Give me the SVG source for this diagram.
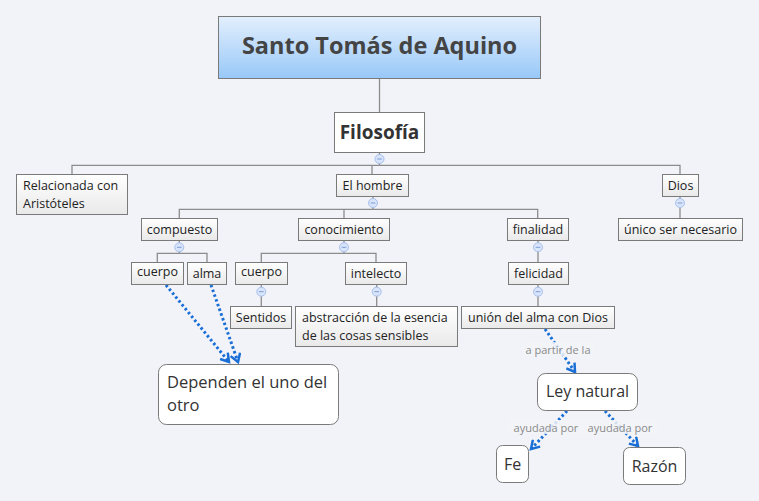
<svg xmlns="http://www.w3.org/2000/svg" width="759" height="501" viewBox="0 0 759 501">
<defs>
<linearGradient id="gTitle" x1="0" y1="0" x2="0" y2="1">
<stop offset="0" stop-color="#e3effd"/><stop offset="1" stop-color="#98c8f8"/>
</linearGradient>
<linearGradient id="gNode" x1="0" y1="0" x2="0" y2="1">
<stop offset="0" stop-color="#ffffff"/><stop offset="1" stop-color="#e9e9ea"/>
</linearGradient>
<marker id="arr" viewBox="0 0 12 12" refX="9" refY="6" markerWidth="12" markerHeight="12" markerUnits="userSpaceOnUse" orient="auto">
<path d="M1,1 L9,6 L1,11" fill="none" stroke="#1a6fd6" stroke-width="2.5"/>
</marker>
<g id="col"><circle r="4.5" fill="#d8e4fa" stroke="#a8c0ec" stroke-width="1"/><line x1="-2.3" y1="0" x2="2.3" y2="0" stroke="#7d9bd6" stroke-width="1"/></g>
</defs>
<style>
.t{font-family:"Open Sans","Noto Sans","DejaVu Sans",sans-serif;fill:#222;}
.n{fill:url(#gNode);stroke:#7a7a7a;stroke-width:1;}
.f{fill:#fff;stroke:#7a7a7a;stroke-width:1;}
.ln{fill:none;stroke:#8c8c8c;stroke-width:1.3;}
.dl{fill:none;stroke:#1a6fd6;stroke-width:3;stroke-dasharray:2.5 2.5;marker-end:url(#arr);}
.lb{font-family:"Open Sans","Noto Sans",sans-serif;font-size:11px;fill:#8a8a8a;text-anchor:middle;}
</style>
<rect width="759" height="501" fill="#f2f3f8"/>
<g id="connectors">
<path class="ln" d="M379.5,78 V112"/>
<path class="ln" d="M379.5,152 V165.3 M72,174 V165.3 H680 V174 M372,165.3 V174"/>
<path class="ln" d="M373,196 V209.3 M179.3,218 V209.3 H537.7 V218 M344,209.3 V218"/>
<path class="ln" d="M680,196 V218"/>
<path class="ln" d="M179.3,240 V253.3 M157.3,262 V253.3 H207 V262"/>
<path class="ln" d="M344,240 V253.3 M261.3,262 V253.3 H376 V262"/>
<path class="ln" d="M538,240 V262 M538,284 V306"/>
<path class="ln" d="M261.3,284 V306 M376.7,284 V306"/>
<use href="#col" x="379.5" y="159"/>
<use href="#col" x="373" y="203"/>
<use href="#col" x="680" y="203"/>
<use href="#col" x="179.3" y="247.3"/>
<use href="#col" x="344" y="247.3"/>
<use href="#col" x="538" y="247.3"/>
<use href="#col" x="261.3" y="291.7"/>
<use href="#col" x="376.7" y="291.7"/>
<use href="#col" x="538" y="291.7"/>
<path class="dl" d="M166,285 L229,362"/>
<path class="dl" d="M211,285 L238,362"/>
<path class="dl" d="M545,329 L575,372"/>
<path class="dl" d="M567,411 L531,449"/>
<path class="dl" d="M605,411 L638,446"/>
<rect x="522" y="342" width="72" height="14" fill="#f2f3f8" opacity="0.85"/>
<rect x="509" y="420" width="74" height="14" fill="#f2f3f8" opacity="0.85"/>
<rect x="583" y="420" width="74" height="14" fill="#f2f3f8" opacity="0.85"/>
<text class="lb" x="558" y="354">a partir de la</text>
<text class="lb" x="546" y="432">ayudada por</text>
<text class="lb" x="620" y="432">ayudada por</text>
</g>
<g id="title">
<rect x="218.5" y="16.5" width="322" height="62" fill="url(#gTitle)" stroke="#7a7a7a"/>
<text class="t" x="379.5" y="54" font-size="23.5" font-weight="bold" text-anchor="middle" style="fill:#444">Santo Tomás de Aquino</text>
</g>
<g id="filosofia">
<rect x="334.5" y="112.5" width="90" height="40" fill="#fff" stroke="#7a7a7a"/>
<text class="t" x="379.5" y="139" font-size="19" font-weight="bold" text-anchor="middle" style="fill:#333">Filosofía</text>
</g>
<g id="relacionada">
<rect class="n" x="16.5" y="174.5" width="111" height="40"/>
<text class="t" x="23" y="190" font-size="12.5">Relacionada con</text>
<text class="t" x="23" y="208" font-size="12.5">Aristóteles</text>
</g>
<g id="hombre">
<rect class="n" x="336.5" y="174.5" width="72" height="22"/>
<text class="t" x="372.5" y="190" font-size="12.5" text-anchor="middle">El hombre</text>
</g>
<g id="dios">
<rect class="n" x="662.5" y="174.5" width="36" height="22"/>
<text class="t" x="680.5" y="190" font-size="12.5" text-anchor="middle">Dios</text>
</g>
<g id="unico">
<rect class="n" x="618.5" y="218.5" width="124" height="22"/>
<text class="t" x="680.5" y="234" font-size="12.5" text-anchor="middle">único ser necesario</text>
</g>
<g id="compuesto">
<rect class="n" x="141.5" y="218.5" width="76" height="22"/>
<text class="t" x="179.5" y="234" font-size="12.5" text-anchor="middle">compuesto</text>
</g>
<g id="conocimiento">
<rect class="n" x="298.5" y="218.5" width="91" height="22"/>
<text class="t" x="344" y="234" font-size="12.5" text-anchor="middle">conocimiento</text>
</g>
<g id="finalidad">
<rect class="n" x="507.5" y="218.5" width="61" height="22"/>
<text class="t" x="538" y="234" font-size="12.5" text-anchor="middle">finalidad</text>
</g>
<g id="cuerpo1">
<rect class="n" x="131.5" y="262.5" width="52" height="22"/>
<text class="t" x="157.5" y="276" font-size="12.5" text-anchor="middle">cuerpo</text>
</g>
<g id="alma">
<rect class="n" x="187.5" y="262.5" width="39" height="22"/>
<text class="t" x="207" y="278" font-size="12.5" text-anchor="middle">alma</text>
</g>
<g id="cuerpo2">
<rect class="n" x="235.5" y="262.5" width="52" height="22"/>
<text class="t" x="261.5" y="276" font-size="12.5" text-anchor="middle">cuerpo</text>
</g>
<g id="intelecto">
<rect class="n" x="345.5" y="262.5" width="61" height="22"/>
<text class="t" x="376" y="278" font-size="12.5" text-anchor="middle">intelecto</text>
</g>
<g id="felicidad">
<rect class="n" x="508.5" y="262.5" width="60" height="22"/>
<text class="t" x="538.5" y="278" font-size="12.5" text-anchor="middle">felicidad</text>
</g>
<g id="sentidos">
<rect class="n" x="230.5" y="306.5" width="61" height="22"/>
<text class="t" x="261" y="322" font-size="12.5" text-anchor="middle">Sentidos</text>
</g>
<g id="abstraccion">
<rect class="n" x="295.5" y="306.5" width="162" height="40"/>
<text class="t" x="302" y="322" font-size="12.5">abstracción de la esencia</text>
<text class="t" x="302" y="340" font-size="12.5">de las cosas sensibles</text>
</g>
<g id="union">
<rect class="n" x="461.5" y="306.5" width="153" height="22"/>
<text class="t" x="538" y="322" font-size="12.5" text-anchor="middle">unión del alma con Dios</text>
</g>
<g id="dependen">
<rect class="f" x="158.5" y="364.5" width="180" height="60" rx="8"/>
<text class="t" x="167" y="388" font-size="16.5" style="fill:#333">Dependen el uno del</text>
<text class="t" x="167" y="411" font-size="16.5" style="fill:#333">otro</text>
</g>
<g id="ley">
<rect class="f" x="537.5" y="373.5" width="100" height="37" rx="8"/>
<text class="t" x="587.5" y="397" font-size="16" text-anchor="middle" style="fill:#333">Ley natural</text>
</g>
<g id="fe">
<rect class="f" x="496.5" y="445.5" width="32" height="37" rx="6"/>
<text class="t" x="512.5" y="470" font-size="16" text-anchor="middle" style="fill:#333">Fe</text>
</g>
<g id="razon">
<rect class="f" x="623.5" y="447.5" width="62" height="37" rx="6"/>
<text class="t" x="654.5" y="472" font-size="16" text-anchor="middle" style="fill:#333">Razón</text>
</g>
</svg>
